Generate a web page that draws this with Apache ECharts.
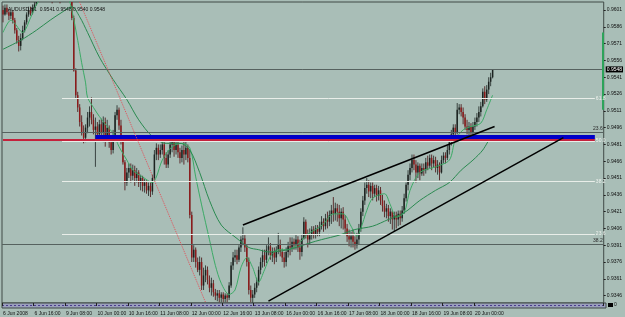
<!DOCTYPE html>
<html><head><meta charset="utf-8">
<script src="https://cdn.jsdelivr.net/npm/echarts@6/dist/echarts.min.js"></script>
<style>html,body{margin:0;padding:0;background:#a9beb7}#c{width:625px;height:317px}</style>
</head><body><div id="c"></div>
<script>
// ---- data ----
const tickLabels = ["6 Jun 2008","6 Jun 16:00","9 Jun 08:00","10 Jun 00:00","10 Jun 16:00","11 Jun 08:00","12 Jun 00:00","12 Jun 16:00","13 Jun 08:00","16 Jun 00:00","16 Jun 16:00","17 Jun 08:00","18 Jun 00:00","18 Jun 16:00","19 Jun 08:00","20 Jun 00:00"];
const barsPerLabel = 16;
const emptyBars = 56;
const firstOpen = 0.9601;
const closes = [
0.9597,0.9603,0.9599,0.9596,0.9599,0.9592,0.9583,0.9574,0.9569,0.9576,
0.9583,0.9590,0.9597,0.9601,0.9598,0.9603,0.9606,0.9612,0.9616,0.9620,
0.9618,0.9622,0.9625,0.9621,0.9617,0.9614,0.9618,0.9615,0.9619,0.9616,
0.9620,0.9623,0.9619,0.9621,0.9618,0.9594,0.9547,0.9525,0.9514,0.9501,
0.9492,0.9487,0.9496,0.9505,0.9510,0.9503,0.9494,0.9497,0.9490,0.9499,
0.9492,0.9501,0.9489,0.9496,0.9483,0.9476,0.9489,0.9507,0.9512,0.9498,
0.9485,0.9465,0.9447,0.9456,0.9460,0.9453,0.9458,0.9451,0.9456,0.9447,
0.9451,0.9444,0.9447,0.9440,0.9444,0.9439,0.9451,0.9472,0.9478,0.9472,
0.9476,0.9481,0.9469,0.9463,0.9472,0.9481,0.9483,0.9476,0.9481,0.9474,
0.9469,0.9476,0.9472,0.9478,0.9469,0.9418,0.9380,0.9387,0.9376,0.9369,
0.9376,0.9355,0.9364,0.9369,0.9360,0.9353,0.9357,0.9349,0.9346,0.9348,
0.9344,0.9347,0.9343,0.9346,0.9344,0.9355,0.9373,0.9380,0.9382,0.9378,
0.9389,0.9396,0.9397,0.9389,0.9376,0.9351,0.9344,0.9347,0.9353,0.9358,
0.9369,0.9376,0.9382,0.9378,0.9387,0.9390,0.9382,0.9385,0.9380,0.9387,
0.9392,0.9385,0.9380,0.9376,0.9385,0.9390,0.9389,0.9394,0.9391,0.9396,
0.9389,0.9385,0.9397,0.9412,0.9400,0.9396,0.9400,0.9405,0.9401,0.9406,
0.9403,0.9408,0.9412,0.9408,0.9415,0.9412,0.9418,0.9422,0.9419,0.9424,
0.9421,0.9415,0.9421,0.9414,0.9406,0.9399,0.9396,0.9399,0.9394,0.9391,
0.9396,0.9406,0.9421,0.9431,0.9442,0.9445,0.9439,0.9444,0.9437,0.9442,
0.9435,0.9440,0.9431,0.9426,0.9421,0.9424,0.9417,0.9421,0.9414,0.9418,
0.9414,0.9419,0.9415,0.9422,0.9433,0.9445,0.9454,0.9460,0.9467,0.9463,
0.9456,0.9462,0.9455,0.9460,0.9458,0.9465,0.9462,0.9469,0.9464,0.9467,
0.9460,0.9463,0.9456,0.9467,0.9471,0.9469,0.9476,0.9483,0.9490,0.9496,
0.9492,0.9512,0.9514,0.9510,0.9505,0.9497,0.9494,0.9497,0.9492,0.9497,
0.9501,0.9505,0.9510,0.9515,0.9528,0.9521,0.9530,0.9537,0.9541,0.9548];
const highs = [
0.9605,0.9606,0.9606,0.9602,0.9601,0.9601,0.9594,0.9585,0.9578,0.9580,
0.9587,0.9592,0.9599,0.9604,0.9604,0.9606,0.9610,0.9615,0.9620,0.9623,
0.9624,0.9626,0.9629,0.9627,0.9624,0.9619,0.9621,0.9620,0.9622,0.9622,
0.9624,0.9627,0.9625,0.9625,0.9623,0.9621,0.9596,0.9549,0.9528,0.9517,
0.9507,0.9498,0.9499,0.9510,0.9515,0.9523,0.9508,0.9505,0.9501,0.9503,
0.9504,0.9506,0.9505,0.9503,0.9498,0.9488,0.9494,0.9510,0.9516,0.9514,
0.9503,0.9489,0.9467,0.9460,0.9464,0.9464,0.9463,0.9462,0.9460,0.9458,
0.9454,0.9453,0.9450,0.9449,0.9447,0.9447,0.9454,0.9476,0.9482,0.9481,
0.9481,0.9484,0.9483,0.9474,0.9476,0.9487,0.9489,0.9487,0.9485,0.9485,
0.9478,0.9480,0.9485,0.9488,0.9481,0.9476,0.9421,0.9391,0.9389,0.9380,
0.9381,0.9380,0.9371,0.9373,0.9372,0.9364,0.9362,0.9360,0.9352,0.9351,
0.9351,0.9349,0.9349,0.9348,0.9348,0.9358,0.9376,0.9385,0.9387,0.9387,
0.9391,0.9399,0.9407,0.9400,0.9392,0.9380,0.9355,0.9351,0.9357,0.9362,
0.9372,0.9380,0.9387,0.9387,0.9391,0.9398,0.9393,0.9389,0.9389,0.9390,
0.9402,0.9396,0.9388,0.9385,0.9389,0.9394,0.9398,0.9398,0.9397,0.9400,
0.9399,0.9396,0.9401,0.9416,0.9414,0.9405,0.9406,0.9408,0.9408,0.9409,
0.9409,0.9412,0.9417,0.9415,0.9419,0.9421,0.9422,0.9427,0.9434,0.9429,
0.9428,0.9427,0.9424,0.9425,0.9418,0.9410,0.9405,0.9403,0.9405,0.9399,
0.9402,0.9410,0.9424,0.9435,0.9447,0.9451,0.9449,0.9447,0.9447,0.9445,
0.9445,0.9444,0.9443,0.9436,0.9431,0.9428,0.9427,0.9424,0.9422,0.9421,
0.9421,0.9422,0.9422,0.9426,0.9437,0.9447,0.9458,0.9464,0.9472,0.9472,
0.9467,0.9465,0.9464,0.9464,0.9464,0.9469,0.9471,0.9472,0.9472,0.9471,
0.9470,0.9467,0.9465,0.9471,0.9474,0.9474,0.9480,0.9487,0.9494,0.9499,
0.9499,0.9518,0.9517,0.9517,0.9514,0.9508,0.9503,0.9501,0.9500,0.9501,
0.9505,0.9509,0.9515,0.9519,0.9531,0.9533,0.9534,0.9541,0.9545,0.9548];
const lows = [
0.9590,0.9596,0.9597,0.9592,0.9593,0.9589,0.9580,0.9571,0.9564,0.9565,
0.9574,0.9581,0.9588,0.9595,0.9596,0.9597,0.9601,0.9605,0.9610,0.9614,
0.9615,0.9616,0.9619,0.9617,0.9612,0.9607,0.9611,0.9609,0.9612,0.9607,
0.9614,0.9617,0.9614,0.9616,0.9614,0.9592,0.9546,0.9522,0.9510,0.9497,
0.9489,0.9482,0.9483,0.9491,0.9497,0.9499,0.9490,0.9461,0.9485,0.9487,
0.9488,0.9483,0.9479,0.9485,0.9478,0.9472,0.9473,0.9487,0.9503,0.9494,
0.9481,0.9463,0.9440,0.9444,0.9451,0.9447,0.9449,0.9444,0.9447,0.9443,
0.9440,0.9439,0.9438,0.9437,0.9435,0.9434,0.9436,0.9449,0.9467,0.9467,
0.9469,0.9472,0.9463,0.9460,0.9460,0.9469,0.9474,0.9470,0.9472,0.9469,
0.9464,0.9465,0.9463,0.9467,0.9465,0.9415,0.9376,0.9376,0.9371,0.9367,
0.9364,0.9351,0.9351,0.9358,0.9356,0.9349,0.9346,0.9345,0.9342,0.9341,
0.9340,0.9340,0.9340,0.9340,0.9340,0.9342,0.9353,0.9369,0.9376,0.9374,
0.9376,0.9385,0.9391,0.9385,0.9372,0.9347,0.9340,0.9339,0.9344,0.9349,
0.9355,0.9365,0.9371,0.9372,0.9375,0.9382,0.9378,0.9376,0.9374,0.9376,
0.9383,0.9381,0.9376,0.9371,0.9372,0.9380,0.9382,0.9385,0.9387,0.9387,
0.9385,0.9378,0.9381,0.9396,0.9397,0.9389,0.9392,0.9396,0.9397,0.9397,
0.9399,0.9399,0.9405,0.9403,0.9405,0.9406,0.9408,0.9410,0.9412,0.9413,
0.9412,0.9408,0.9406,0.9405,0.9401,0.9394,0.9390,0.9389,0.9389,0.9387,
0.9388,0.9392,0.9403,0.9417,0.9427,0.9437,0.9434,0.9433,0.9431,0.9434,
0.9430,0.9431,0.9427,0.9421,0.9416,0.9415,0.9412,0.9410,0.9405,0.9403,
0.9406,0.9408,0.9409,0.9412,0.9419,0.9430,0.9440,0.9449,0.9456,0.9458,
0.9447,0.9451,0.9449,0.9453,0.9453,0.9455,0.9458,0.9460,0.9458,0.9460,
0.9456,0.9454,0.9449,0.9455,0.9464,0.9464,0.9467,0.9472,0.9480,0.9487,
0.9488,0.9490,0.9508,0.9506,0.9499,0.9494,0.9490,0.9488,0.9488,0.9489,
0.9494,0.9497,0.9501,0.9506,0.9514,0.9517,0.9519,0.9526,0.9533,0.9540];
const fastIdx = [0,4,6,10,14,17,22,28,33,35,38,40,42,43,46,49,53,56,59,63,66,71,76,78,81,86,91,95,98,101,105,108,111,115,118,121,124,127,130,133,136,140,145,150,155,159,163,168,173,177,180,182,185,188,194,197,200,204,207,212,220,227,230,234,238,243,246,249];
const fastVal = [0.9581,0.9592,0.9589,0.9581,0.9594,0.9606,0.9616,0.9618,0.9612,0.9601,0.9574,0.9554,0.9536,0.9523,0.9514,0.9506,0.9497,0.9491,0.9479,0.9467,0.9458,0.9452,0.9447,0.9452,0.9467,0.9479,0.9482,0.9478,0.9452,0.9427,0.9396,0.9373,0.9357,0.9347,0.9351,0.9371,0.9380,0.9371,0.9358,0.9369,0.9381,0.9387,0.9387,0.9392,0.9401,0.9405,0.9410,0.9419,0.9419,0.9408,0.9399,0.9406,0.9422,0.9433,0.9437,0.9427,0.9416,0.9420,0.9440,0.9456,0.9461,0.9467,0.9485,0.9494,0.9497,0.9500,0.9512,0.9525];
const slowIdx = [0,9,17,24,30,35,39,43,49,56,63,69,76,83,90,95,100,105,111,119,125,130,135,142,149,156,162,171,179,188,196,204,212,220,227,233,239,244,248];
const slowVal = [0.9566,0.9574,0.9583,0.9592,0.9599,0.9604,0.9595,0.9581,0.9559,0.9539,0.9521,0.9503,0.9488,0.9482,0.9482,0.9476,0.9456,0.9431,0.9409,0.9397,0.9389,0.9387,0.9385,0.9386,0.9389,0.9393,0.9396,0.9400,0.9405,0.9408,0.9414,0.9420,0.9431,0.9440,0.9447,0.9458,0.9467,0.9476,0.9488];
const yTicks = [0.9601,0.9586,0.9571,0.9556,0.9541,0.9526,0.9511,0.9496,0.9481,0.9466,0.9451,0.9436,0.9421,0.9406,0.9391,0.9376,0.9361,0.9346];
const fibNames = ['61.8','50.0','38.2','23.6'];
const fibValues = [0.9522,0.9484,0.9448,0.9401];
const fibStart = 30, fibEnd = 301;
const greyLevelNames = ['23.6','38.2'];
const greyLevelValues = [0.9492,0.9392];
const bidPrice = 0.9548;
const supportPrice = 0.9485;
const blueLevel = 0.9488, blueStart = 47;
const upperTrend = [[122,0.9409],[250,0.9497]];
const lowerTrend = [[135,0.9341],[285,0.9487]];
const redDotted = [[39,0.9608],[103,0.9340]];
const greenMarker = [[305,0.9581],[305,0.9512]];
const header = 'AUDUSD,H1  0.9541 0.9548 0.9540 0.9548';

// ---- build ----
const n = closes.length;
const categories = [];
for (let i = 0; i < n + emptyBars; i++) categories.push(String(i));
const ohlc = closes.map((c, i) => [i, i === 0 ? firstOpen : closes[i - 1], c, lows[i], highs[i]]);
const fastData = fastIdx.map((x, k) => [x, fastVal[k]]);
const slowData = slowIdx.map((x, k) => [x, slowVal[k]]);
const FS = 5, FF = 'Liberation Sans, Arial, sans-serif';
const labelInterval = (idx) => idx % barsPerLabel === 0 && idx / barsPerLabel < tickLabels.length;

function renderCandle(params, api) {
  const i = api.value(0), o = api.value(1), c = api.value(2), l = api.value(3), h = api.value(4);
  const pH = api.coord([i, h]), pL = api.coord([i, l]), pO = api.coord([i, o]), pC = api.coord([i, c]);
  const bw = api.size([1, 0])[0] * 0.75;
  const up = c >= o;
  const top = Math.min(pO[1], pC[1]);
  const hgt = Math.max(1, Math.abs(pO[1] - pC[1]));
  return { type: 'group', children: [
    { type: 'line', shape: { x1: pH[0], y1: pH[1], x2: pL[0], y2: pL[1] }, style: { stroke: up ? '#3a4441' : '#5b2f2f', lineWidth: 1 } },
    { type: 'rect', shape: { x: pO[0] - bw / 2, y: top, width: bw, height: hgt }, style: { fill: up ? '#1c2320' : '#8c1b1b' } }
  ]};
}

const ml = [];
ml.push({ yAxis: bidPrice, lineStyle: { color: '#56625f', width: 1, type: 'solid' },
  label: { show: true, position: 'end', formatter: bidPrice.toFixed(4), backgroundColor: '#000', color: '#fff', fontSize: FS, fontFamily: FF, padding: [1, 1, 0, 1], distance: 2 } });
greyLevelValues.forEach((v, k) => ml.push({ yAxis: v, lineStyle: { color: '#56625f', width: 1, type: 'solid' },
  label: { show: true, position: 'insideEndTop', formatter: greyLevelNames[k], color: '#2a2a2a', fontSize: FS, fontFamily: FF, distance: 1 } }));
fibValues.forEach((v, k) => ml.push([
  { coord: [fibStart, v], lineStyle: { color: '#e9eee9', width: 1, type: 'solid' },
    label: { show: true, position: 'end', formatter: fibNames[k], color: '#eef2ee', fontSize: FS, fontFamily: FF, distance: 1 } },
  { coord: [fibEnd, v] }]));
ml.push([{ coord: [0, supportPrice], lineStyle: { color: '#c4223c', width: 2, type: 'solid' }, label: { show: false } }, { coord: [fibEnd, supportPrice] }]);
ml.push([{ coord: [blueStart, blueLevel], lineStyle: { color: '#0000c8', width: 4, type: 'solid' }, label: { show: false } }, { coord: [fibEnd, blueLevel] }]);
ml.push({ yAxis: supportPrice, lineStyle: { opacity: 0, width: 1 },
  label: { show: true, position: 'end', formatter: supportPrice.toFixed(4), backgroundColor: '#c4223c', color: '#fff', fontSize: FS, fontFamily: FF, padding: [1, 1, 0, 1], distance: 2 } });
ml.push([{ coord: redDotted[0], lineStyle: { color: '#e2505a', width: 1, type: 'dotted' }, label: { show: false } }, { coord: redDotted[1] }]);
ml.push([{ coord: upperTrend[0], lineStyle: { color: '#000', width: 1.5, type: 'solid' }, label: { show: false } }, { coord: upperTrend[1] }]);
ml.push([{ coord: lowerTrend[0], lineStyle: { color: '#000', width: 1.5, type: 'solid' }, label: { show: false } }, { coord: lowerTrend[1] }]);
ml.push([{ coord: greenMarker[0], lineStyle: { color: '#2da35a', width: 2, type: 'solid' }, label: { show: false } }, { coord: greenMarker[1] }]);

const chart = echarts.init(document.getElementById('c'), null, { renderer: 'canvas' });
chart.setOption({
  animation: false,
  backgroundColor: '#a9beb7',
  title: { text: header, left: 3, top: 2, textStyle: { fontSize: FS, fontWeight: 'normal', color: '#111', fontFamily: FF } },
  grid: { left: 2, right: 19, top: 2, bottom: 14, show: true, borderColor: '#404a47', borderWidth: 1, backgroundColor: 'transparent' },
  xAxis: {
    type: 'category', data: categories, boundaryGap: true,
    axisLine: { show: false },
    axisTick: { show: true, interval: labelInterval, length: 3, lineStyle: { color: '#222' } },
    axisLabel: { interval: labelInterval, formatter: (v) => tickLabels[Number(v) / barsPerLabel], align: 'left', fontSize: FS, fontFamily: FF, color: '#111', margin: 8 },
    splitLine: { show: false }
  },
  yAxis: {
    type: 'value', position: 'right', min: 0.93394, max: 0.96082, scale: true,
    axisLine: { show: false }, splitLine: { show: false },
    axisTick: { show: true, customValues: yTicks, length: 2, lineStyle: { color: '#222' } },
    axisLabel: { customValues: yTicks, formatter: (v) => v.toFixed(4), fontSize: FS, fontFamily: FF, color: '#111', margin: 3 }
  },
  graphic: [
    { type: 'rect', shape: { x: 2, y: 303, width: 604, height: 5 }, style: { fill: '#9aa0bd', stroke: '#404a47', lineWidth: 1 }, silent: true },
    { type: 'line', shape: { x1: 2, y1: 305.5, x2: 606, y2: 305.5 }, style: { stroke: '#4a3c8c', lineWidth: 1, lineDash: [2, 2] }, silent: true },
    { type: 'rect', shape: { x: 608, y: 303, width: 5, height: 4 }, style: { fill: '#000' }, silent: true },
    { type: 'text', x: 614, y: 302, style: { text: '0', fontSize: FS, fill: '#111', fontFamily: FF }, silent: true }
  ],
  series: [
    { type: 'custom', name: 'AUDUSD', renderItem: renderCandle, data: ohlc, encode: { x: 0, y: [1, 2, 3, 4] }, clip: true, z: 2, silent: true },
    { type: 'line', name: 'MA fast', data: fastData, smooth: 0.3, showSymbol: false, clip: true, lineStyle: { color: '#3caa66', width: 1 }, z: 3, silent: true },
    { type: 'line', name: 'MA slow', data: slowData, smooth: 0.3, showSymbol: false, clip: true, lineStyle: { color: '#2a8a50', width: 1 }, z: 4, silent: true,
      markLine: { silent: true, symbol: ['none', 'none'], animation: false, precision: 4, data: ml } }
  ]
});
</script></body></html>
